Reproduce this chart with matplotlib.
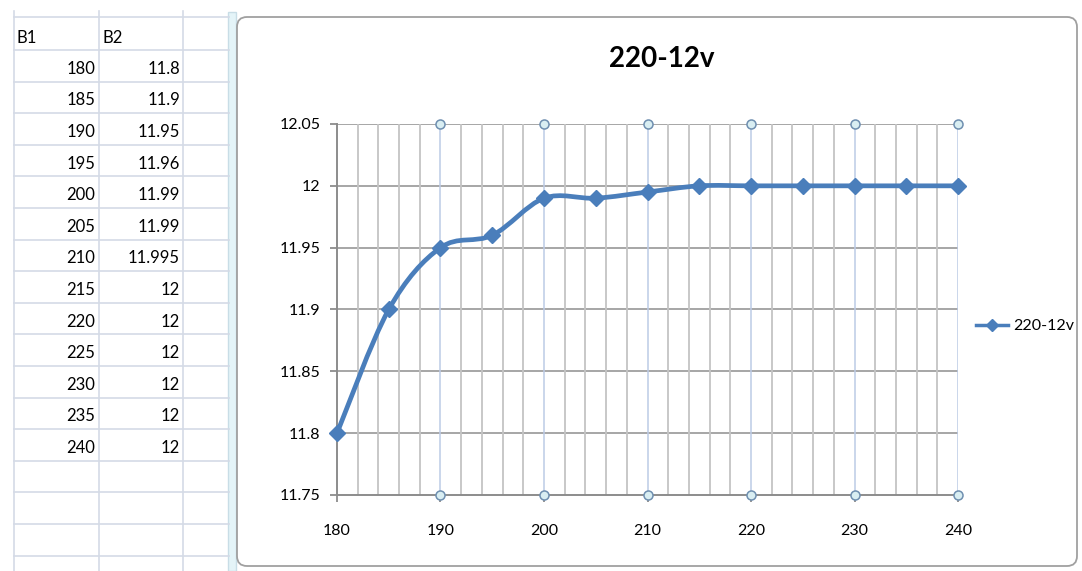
import matplotlib.pyplot as plt
from matplotlib.path import Path
from matplotlib.patches import PathPatch, FancyBboxPatch, Rectangle
from matplotlib.lines import Line2D

plt.rcParams['font.family'] = ['Lato', 'DejaVu Sans']

# data from the sheet
b1 = [180, 185, 190, 195, 200, 205, 210, 215, 220, 225, 230, 235, 240]
b2 = [11.8, 11.9, 11.95, 11.96, 11.99, 11.99, 11.995, 12, 12, 12, 12, 12, 12]
b2_text = ['11.8', '11.9', '11.95', '11.96', '11.99', '11.99', '11.995',
           '12', '12', '12', '12', '12', '12']
series_name = '220-12v'
y_ticks = [11.75, 11.8, 11.85, 11.9, 11.95, 12, 12.05]
x_ticks = [180, 190, 200, 210, 220, 230, 240]

W, H = 1082, 571
fig = plt.figure(figsize=(W / 100, H / 100), dpi=100)

# background layer in pixel coordinates (spreadsheet + chart frame)
bg = fig.add_axes([0, 0, 1, 1])
bg.set_xlim(0, W)
bg.set_ylim(H, 0)
bg.axis('off')

grid_col = '#d4dae6'
row_top = 17
row_h = 31.6
n_rows = 18
bg.plot([14, 229], [row_top, row_top], color=grid_col, lw=1.2)
for i in range(n_rows):
    y = row_top + 33 + i * row_h
    bg.plot([14, 229], [y, y], color=grid_col, lw=1.2)
for x in [14, 99, 183]:
    bg.plot([x, x], [row_top - 6, H], color=grid_col, lw=1.2)

txt = '#000000'
bg.text(17, row_top + 21, 'B1', fontsize=12, ha='left', va='center', color=txt)
bg.text(102, row_top + 21, 'B2', fontsize=12, ha='left', va='center', color=txt)
for i, (a, b) in enumerate(zip(b1, b2_text)):
    yc = row_top + 33 + i * row_h + row_h / 2 + 3
    bg.text(95, yc, str(a), fontsize=12, ha='right', va='center', color=txt)
    bg.text(180, yc, b, fontsize=12, ha='right', va='center', color=txt)

# chart selection strip and frame
bg.add_patch(Rectangle((228, 12), 8, H - 12, facecolor='#e4f4f8', edgecolor='#c8dde6', lw=1))
bg.add_patch(FancyBboxPatch((237, 17), 840, 549, boxstyle='round,pad=0,rounding_size=10',
                            facecolor='white', edgecolor='#a0a0a0', lw=1.3))
bg.text(662, 59, series_name, fontsize=20, fontweight='bold', ha='center', va='center', color='black')

# plot area
x0, x1, y0, y1 = 337, 958, 124, 495
ax = fig.add_axes([x0 / W, (H - y1) / H, (x1 - x0) / W, (y1 - y0) / H])
ax.set_xlim(180, 240)
ax.set_ylim(11.75, 12.05)
ax.patch.set_alpha(0)

for y in y_ticks[1:]:
    ax.axhline(y, color='#a6a6a6', lw=1.4, zorder=1)
for x in range(182, 240, 2):
    if (x - 180) % 10:
        ax.axvline(x, color='#c4c4c4', lw=1.3, zorder=1)
for x in x_ticks[1:]:
    ax.axvline(x, color='#bccbe6', lw=1.1, zorder=1)

for s in ['top', 'right']:
    ax.spines[s].set_visible(False)
for s in ['left', 'bottom']:
    ax.spines[s].set_color('#8c8c8c')
    ax.spines[s].set_linewidth(1.4)

ax.set_xticks(x_ticks)
ax.set_yticks(y_ticks)
ax.set_yticklabels(['11.75', '11.8', '11.85', '11.9', '11.95', '12', '12.05'])
ax.tick_params(axis='both', length=5, width=1.3, color='#8c8c8c', labelsize=11.5, labelcolor=txt)
ax.tick_params(axis='y', pad=7)
ax.tick_params(axis='x', pad=16)

# smoothed line (Catmull-Rom bezier like Excel)
pts = list(zip(b1, b2))
verts = [pts[0]]
codes = [Path.MOVETO]
n = len(pts)
for i in range(n - 1):
    p0 = pts[i - 1] if i > 0 else pts[i]
    p1 = pts[i]
    p2 = pts[i + 1]
    p3 = pts[i + 2] if i + 2 < n else pts[i + 1]
    c1 = (p1[0] + (p2[0] - p0[0]) / 6, p1[1] + (p2[1] - p0[1]) / 6)
    c2 = (p2[0] - (p3[0] - p1[0]) / 6, p2[1] - (p3[1] - p1[1]) / 6)
    verts += [c1, c2, p2]
    codes += [Path.CURVE4] * 3
ax.add_patch(PathPatch(Path(verts, codes), facecolor='none', edgecolor='#4a7ebb',
                       lw=3.4, zorder=3, clip_on=False, capstyle='round', joinstyle='round'))
ax.plot(b1, b2, linestyle='none', marker='D', markersize=8.5, color='#4a7ebb', zorder=4, clip_on=False)

# selection handles on the major vertical gridlines
hx = x_ticks[1:]
ax.plot(hx, [12.05] * len(hx), 'o', ms=6.5, mfc='#d9eef2', mec='#6f8fb0', mew=1.1, zorder=5, clip_on=False)
ax.plot(hx, [11.75] * len(hx), 'o', ms=6.5, mfc='#d9eef2', mec='#6f8fb0', mew=1.1, zorder=5, clip_on=False)

# legend
handle = Line2D([], [], color='#4a7ebb', lw=2.5, marker='D', markersize=6.5)
fig.legend([handle], [series_name], loc='center left', bbox_to_anchor=(962 / W, (H - 326) / H),
           frameon=False, fontsize=11.5, handlelength=2.0, handletextpad=0.3)

fig.savefig('out.png', dpi=100)
